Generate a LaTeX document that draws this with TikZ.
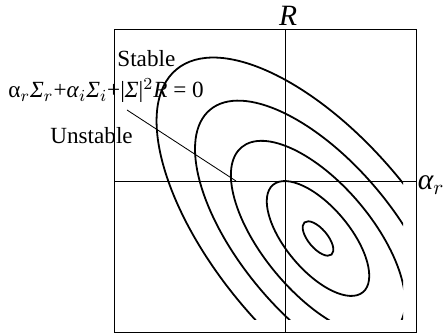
\documentclass[tikz,border=0pt]{standalone}
\usepackage{amsmath}
\usepackage{fontspec}
\setmainfont{Liberation Serif}
\usetikzlibrary{positioning}

\begin{document}
\begin{tikzpicture}[x=0.0167cm, y=-0.0167cm,
  frame/.style={line width=0.4pt},
  level/.style={line width=0.85pt},
  lbl/.style={inner sep=0pt, font=\fontsize{11}{13}\selectfont},
  axlbl/.style={inner sep=0pt, font=\fontsize{14}{16}\selectfont\itshape}
]
\useasboundingbox (0,0) rectangle (446,334);
% box and axes
\draw[frame] (114,29) rectangle (416,332);
\coordinate (rtop) at (285,29);
\coordinate (rbot) at (285,332);
\coordinate (aleft) at (114,181);
\coordinate (aright) at (416,181);
\draw[frame] (rtop) -- (rbot);
\draw[frame] (aleft) -- (aright);
% level curves
\coordinate (c) at (318,238.5);
\begin{scope}
  \clip (114,29) rectangle (403,320);
  \foreach \s in {0.3,1,1.7,2.4,3.15}
    \draw[level, rotate around={-50:(c)}] (c) ellipse [x radius=70*\s, y radius=32*\s];
\end{scope}
% labels
\node[axlbl] (R) at (288,16) {R};
\node[axlbl, anchor=base east] (ar) at (445,190) {α$_r$};
\node[lbl, anchor=base west] (stable) at (117,67) {Stable};
\node[lbl, anchor=base west] (cond) at (8,98)
  {α$_r$\textit{Σ}$_r$+\textit{α}$_i$\textit{Σ}$_i$+|\textit{Σ}|$^2$\textit{R} = 0};
\node[lbl, anchor=base west] (unstable) at (50,144) {Unstable};
\coordinate (lead) at (127,110);
\coordinate (foot) at (236,181);
\draw[frame] (lead) -- (foot);
\end{tikzpicture}
\end{document}
